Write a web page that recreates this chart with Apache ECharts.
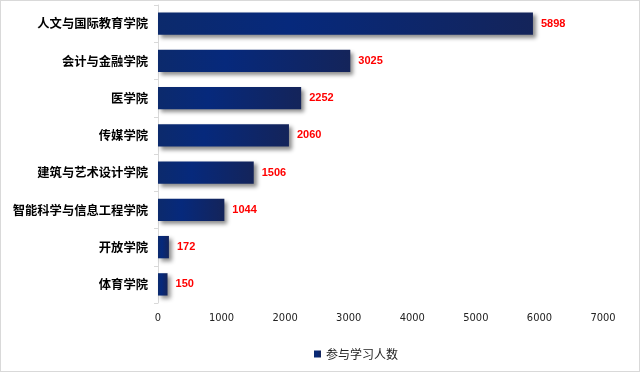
<!DOCTYPE html>
<html><head><meta charset="utf-8">
<script src="https://cdn.jsdelivr.net/npm/echarts@6/dist/echarts.min.js"></script>
<style>
html,body{margin:0;padding:0;background:#fff;}
#c{width:640px;height:372px;box-sizing:border-box;border:1px solid #d9d9d9;}
</style></head>
<body><div id="c"></div>
<script>
const categories = ['人文与国际教育学院','会计与金融学院','医学院','传媒学院','建筑与艺术设计学院','智能科学与信息工程学院','开放学院','体育学院'];
const values = [5898, 3025, 2252, 2060, 1506, 1044, 172, 150];
const seriesName = '参与学习人数';
const xTicks = {min: 0, max: 7000, interval: 1000};

const chart = echarts.init(document.getElementById('c'), null, {renderer: 'canvas'});
chart.setOption({
  animation: false,
  grid: {left: 157, right: 36, top: 4, bottom: 68},
  legend: {
    bottom: 6, left: 308, icon: 'rect', itemWidth: 7, itemHeight: 7, itemGap: 4,
    textStyle: {fontSize: 12, color: '#222', fontFamily: 'Noto Sans CJK SC'},
    data: [seriesName]
  },
  xAxis: {
    type: 'value', min: xTicks.min, max: xTicks.max, interval: xTicks.interval,
    axisLine: {show: false}, axisTick: {show: false}, splitLine: {show: false},
    axisLabel: {fontSize: 11, color: '#222', margin: 10, fontFamily: 'DejaVu Sans Condensed',
      formatter: v => String(v)}
  },
  yAxis: {
    type: 'category', data: categories, inverse: true,
    axisLine: {show: true, lineStyle: {color: '#d9d9d9'}},
    axisTick: {show: true, length: 4, lineStyle: {color: '#d9d9d9'}},
    axisLabel: {fontSize: 12.3, fontWeight: 'bold', color: '#000', margin: 10, fontFamily: 'Noto Sans CJK SC'}
  },
  series: [{
    name: seriesName, type: 'bar', data: values, barWidth: '60%',
    itemStyle: {
      color: new echarts.graphic.LinearGradient(0, 0, 1, 0, [
        {offset: 0, color: '#0c2a6c'},
        {offset: 0.35, color: '#06297c'},
        {offset: 1, color: '#14245a'}
      ]),
      shadowColor: 'rgba(0,0,0,0.45)', shadowBlur: 4, shadowOffsetX: 3, shadowOffsetY: 3
    },
    label: {show: true, position: 'right', distance: 8, color: '#ff0000', fontWeight: 'bold', fontSize: 11, fontFamily: 'Liberation Sans'}
  }]
});
</script></body></html>
